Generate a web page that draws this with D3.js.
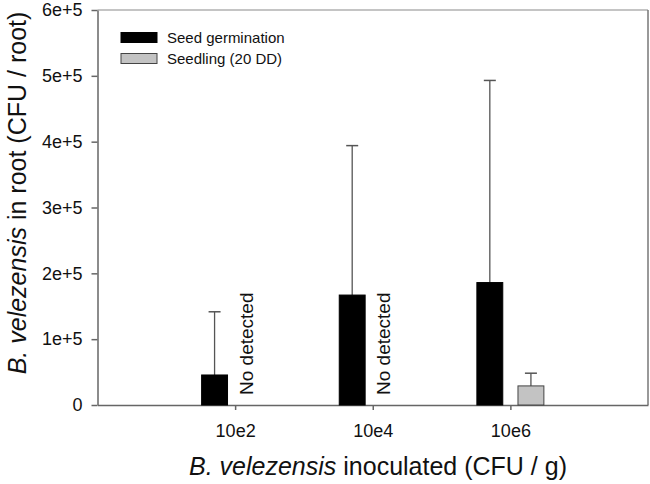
<!DOCTYPE html>
<html>
<head>
<meta charset="utf-8">
<script src="https://cdn.jsdelivr.net/npm/d3@7"></script>
<style>
  html, body { margin: 0; padding: 0; background: #fff; }
  svg { display: block; font-family: "Liberation Sans", Arial, sans-serif; }
</style>
</head>
<body>
<svg id="chart" width="650" height="484"></svg>
<script>
const categories = ["10e2", "10e4", "10e6"];
const seriesNames = ["Seed germination", "Seedling (20 DD)"];
const germination = [45600, 167000, 186000];
const germinationErr = [96000, 227000, 307000];
const seedling = [null, null, 29000];
const seedlingErr = [null, null, 19300];
const yTicks = [0, 100000, 200000, 300000, 400000, 500000, 600000];
const yTickLabels = ["0", "1e+5", "2e+5", "3e+5", "4e+5", "5e+5", "6e+5"];
const notDetectedLabel = "No detected";

(function () {
const svg = d3.select("#chart");
const mLeft = 97.5, mRight = 648, mTop = 10, mBottom = 405;

const x = d3.scaleLinear().domain([0, categories.length + 1]).range([mLeft, mRight]);
const sub = d3.scaleBand().domain(["germ", "seed"]).range([-33.5, 33.5]).paddingInner(0.37);
const y = d3.scaleLinear().domain([0, 600000]).range([mBottom, mTop]);

// frame (top & right)
svg.append("line").attr("x1", mLeft).attr("x2", mRight).attr("y1", mTop).attr("y2", mTop)
  .attr("stroke", "#8a8a8a").attr("stroke-width", 1.2);
svg.append("line").attr("x1", mRight).attr("x2", mRight).attr("y1", mTop).attr("y2", mBottom)
  .attr("stroke", "#777").attr("stroke-width", 1.5);

// Y axis
const yAxis = d3.axisLeft(y).tickValues(yTicks).tickFormat((d, i) => yTickLabels[i])
  .tickSizeInner(6).tickSizeOuter(0).tickPadding(9);
const gy = svg.append("g").attr("transform", `translate(${mLeft},0)`).call(yAxis);
gy.select(".domain").attr("stroke", "#666").attr("stroke-width", 1.5);
gy.selectAll(".tick line").attr("stroke", "#666").attr("stroke-width", 1.5);
gy.selectAll(".tick text").attr("font-size", 18).attr("fill", "#111")
  .attr("font-family", "'Liberation Sans', Arial, sans-serif");

// X axis
const xAxis = d3.axisBottom(x).tickValues(categories.map((c, i) => i + 1))
  .tickFormat((d) => categories[d - 1]).tickSizeInner(5).tickSizeOuter(0).tickPadding(14);
const gx = svg.append("g").attr("transform", `translate(0,${mBottom})`).call(xAxis);
gx.select(".domain").attr("stroke", "#666").attr("stroke-width", 1.5);
gx.selectAll(".tick line").attr("stroke", "#666").attr("stroke-width", 1.5);
gx.selectAll(".tick text").attr("font-size", 18).attr("fill", "#111")
  .attr("font-family", "'Liberation Sans', Arial, sans-serif");

// bars
const series = [
  { key: "germ", vals: germination, errs: germinationErr, fill: "#000", stroke: "#000" },
  { key: "seed", vals: seedling, errs: seedlingErr, fill: "#c3c3c3", stroke: "#444" }
];
const capW = 12;
series.forEach(s => {
  categories.forEach((c, i) => {
    const cx = x(i + 1) + sub(s.key);
    const v = s.vals[i];
    if (v == null) {
      svg.append("text")
        .attr("transform", `translate(${cx + sub.bandwidth() / 2 - 3},395) rotate(-90)`)
        .attr("font-size", 19).attr("fill", "#111").text(notDetectedLabel);
      return;
    }
    const e = s.errs[i];
    const mid = cx + sub.bandwidth() / 2;
    svg.append("line").attr("x1", mid).attr("x2", mid).attr("y1", y(v)).attr("y2", y(v + e))
      .attr("stroke", "#555").attr("stroke-width", 1.3);
    svg.append("line").attr("x1", mid - capW / 2).attr("x2", mid + capW / 2)
      .attr("y1", y(v + e)).attr("y2", y(v + e)).attr("stroke", "#555").attr("stroke-width", 1.5);
    svg.append("rect").attr("x", cx).attr("width", sub.bandwidth())
      .attr("y", y(v)).attr("height", y(0) - y(v))
      .attr("fill", s.fill).attr("stroke", s.stroke).attr("stroke-width", 1);
  });
});

// legend
const legend = svg.append("g");
series.forEach((s, i) => {
  legend.append("rect").attr("x", 121).attr("y", 32.5 + i * 21).attr("width", 36).attr("height", 10)
    .attr("fill", s.fill).attr("stroke", s.stroke).attr("stroke-width", 1);
  legend.append("text").attr("x", 167).attr("y", 43 + i * 21).attr("font-size", 15)
    .attr("fill", "#111").text(seriesNames[i]);
});

// axis titles
const xt = svg.append("text").attr("x", 378).attr("y", 475).attr("text-anchor", "middle")
  .attr("font-size", 25).attr("fill", "#111");
xt.append("tspan").attr("font-style", "italic").text("B. velezensis");
xt.append("tspan").text(" inoculated (CFU / g)");

const yt = svg.append("text").attr("transform", "translate(26,193) rotate(-90)")
  .attr("text-anchor", "middle").attr("font-size", 25).attr("fill", "#111");
yt.append("tspan").attr("font-style", "italic").text("B. velezensis");
yt.append("tspan").text(" in root (CFU / root)");
})();
</script>
</body>
</html>
